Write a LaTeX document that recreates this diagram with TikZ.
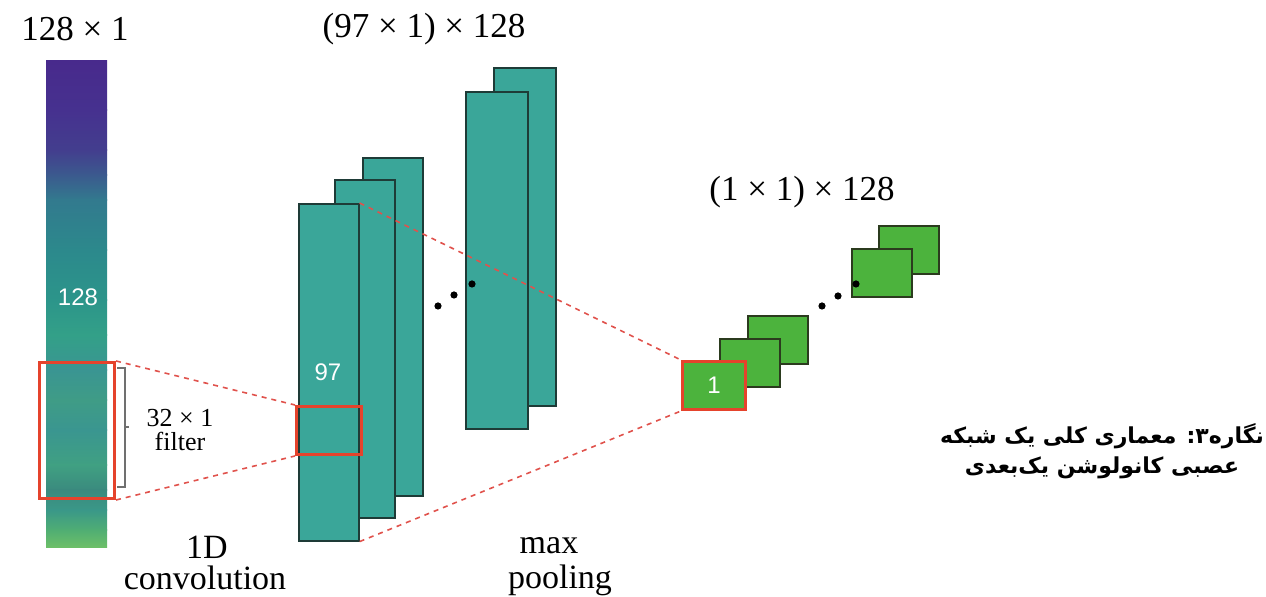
\documentclass[tikz,border=0pt]{standalone}
\usepackage{fontspec}
\setmainfont{Liberation Serif}
\newfontfamily\numfont{Liberation Sans}
\newfontfamily\farsifont[Script=Arabic]{DejaVu Sans}
\TeXXeTstate=1
\definecolor{fmapc}{HTML}{3AA699}
\definecolor{fborder}{HTML}{1E3B37}
\definecolor{gboxc}{HTML}{4CB33D}
\definecolor{gborder}{HTML}{2B3B1E}
\definecolor{redbox}{HTML}{E5432C}
\definecolor{reddash}{HTML}{E0524C}
\definecolor{bracketc}{HTML}{707070}
\definecolor{v0}{HTML}{482A8C}
\definecolor{v1}{HTML}{46318F}
\definecolor{v2}{HTML}{433E8E}
\definecolor{v3}{HTML}{3B5A8E}
\definecolor{v4}{HTML}{327A8E}
\definecolor{v5}{HTML}{2C898C}
\definecolor{v6}{HTML}{2C958A}
\definecolor{v7}{HTML}{33A088}
\definecolor{v8}{HTML}{3A9592}
\definecolor{v9}{HTML}{3F9C86}
\definecolor{v10}{HTML}{3A9690}
\definecolor{v11}{HTML}{40A082}
\definecolor{v12}{HTML}{3A8A7E}
\definecolor{v13}{HTML}{3A9888}
\definecolor{v14}{HTML}{50AE73}
\definecolor{v15}{HTML}{6DC068}
\tikzset{
  fmap/.style={draw=fborder, fill=fmapc, line width=0.8pt, anchor=north west, inner sep=0pt, minimum width=30pt},
  gbox/.style={draw=gborder, fill=gboxc, line width=0.8pt, anchor=north west, inner sep=0pt, minimum width=30pt, minimum height=24pt},
  redframe/.style={draw=redbox, line width=1.5pt, anchor=north west, inner sep=0pt},
  rdash/.style={draw=reddash, line width=0.8pt, dash pattern=on 2.5pt off 2.5pt},
  lab/.style={font=\fontsize{17.5}{20}\selectfont, inner sep=0pt},
  blab/.style={font=\fontsize{17}{20}\selectfont, inner sep=0pt},
  wnum/.style={text=white, font=\numfont\fontsize{12}{14}\selectfont, inner sep=0pt},
  dotc/.style={fill=black, circle, inner sep=0pt, minimum size=3.6pt},
}
\begin{document}
\begin{tikzpicture}[x=0.5pt, y=-0.5pt]
\path[use as bounding box] (0,0) rectangle (1266,597);
% input column
\node[anchor=north west, inner sep=0pt, minimum width=30.5pt, minimum height=243pt] (col) at (46,61) {};
\foreach \ya/\ca/\yb/\cb in {61/v0/110/v1, 110/v1/150/v2, 150/v2/175/v3, 175/v3/200/v4, 200/v4/250/v5, 250/v5/300/v6, 300/v6/335/v7, 335/v7/370/v8, 370/v8/400/v9, 400/v9/430/v10, 430/v10/465/v11, 465/v11/490/v12, 490/v12/510/v13, 510/v13/530/v14, 530/v14/547/v15}
  \shade[top color=\ca, bottom color=\cb] (46,\ya) rectangle (107,\yb+0.5);
\node[wnum] (n128) at (78,297) {128};
% filter frame
\node[redframe, minimum width=37.5pt, minimum height=68pt] (filt) at (38,361) {};
% bracket
\coordinate (bt) at (125,368);
\coordinate (bb) at (125,487);
\coordinate (bm) at (125,427);
\draw[bracketc, line width=0.6pt] ([xshift=-4pt]bt) -- (bt) -- (bb) -- ([xshift=-4pt]bb);
\draw[bracketc, line width=0.6pt] (bm) -- ([xshift=2pt]bm);
\node[font=\fontsize{13}{12}\selectfont, align=center, inner sep=0pt] (flab) at (180,430) {32 × 1\\filter};
% conv feature maps
\node[fmap, minimum height=169pt] (c3) at (362,157) {};
\node[fmap, minimum height=169pt] (c2) at (334,179) {};
\node[fmap, minimum height=168.5pt] (c1) at (298,203) {};
\node[wnum] (n97) at (328,372) {97};
\node[redframe, minimum width=32.5pt, minimum height=24pt] (cbox) at (295,405) {};
% pooled maps
\node[fmap, minimum width=31pt, minimum height=169pt] (p2) at (493,67) {};
\node[fmap, minimum width=31pt, minimum height=168.5pt] (p1) at (465,91) {};
\node[dotc] (d1) at (438,306) {};
\node[dotc] (d2) at (454,295) {};
\node[dotc] (d3) at (472,284) {};
% green outputs
\node[gbox] (g5) at (878,225) {};
\node[gbox] (g4) at (851,248) {};
\node[gbox] (g3) at (747,315) {};
\node[gbox] (g2) at (719,338) {};
\node[gbox, draw=redbox, line width=1.5pt, minimum width=31.5pt] (g1) at (681,360) {\numfont\fontsize{12}{14}\selectfont\textcolor{white}{1}};
\node[dotc] (e1) at (822,306) {};
\node[dotc] (e2) at (838,296) {};
\node[dotc] (e3) at (856,284) {};
% dashed connectors
\draw[rdash] (filt.north east) -- (cbox.north west);
\draw[rdash] (filt.south east) -- (cbox.south west);
\draw[rdash] (c1.north east) -- (g1.north west);
\draw[rdash] (c1.south east) -- (g1.south west);
% labels
\node[lab] (l1) at (75,29) {128 × 1};
\node[lab] (l2) at (424,29) {(97 × 1) × 128};
\node[lab] (l3) at (802,192) {(1 × 1) × 128};
\node[blab] (l4a) at (207,547) {1D};
\node[blab] (l4b) at (205,578) {convolution};
\node[blab] (l5a) at (549,546) {max};
\node[blab] (l5b) at (560,580) {pooling};
% caption
\node[font=\farsifont\bfseries\fontsize{11}{15}\selectfont, align=center, inner sep=0pt] (cap) at (1102,451)
  {\beginR نگاره۳:  معماری کلی یک شبکه\endR\\\beginR عصبی کانولوشن یک‌بعدی\endR};
\end{tikzpicture}
\end{document}
